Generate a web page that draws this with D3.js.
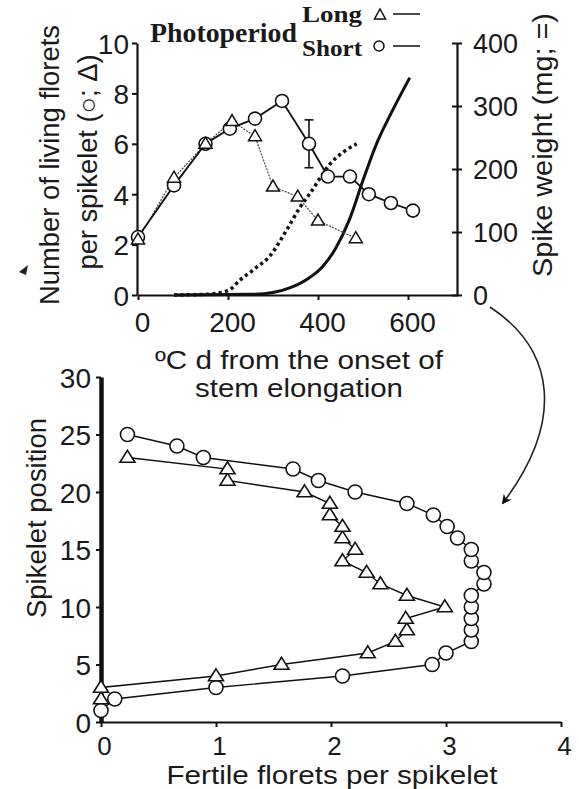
<!DOCTYPE html>
<html><head><meta charset="utf-8">
<script src="https://cdn.jsdelivr.net/npm/d3@7"></script>
<style>body{margin:0;background:#fff} svg{display:block}</style>
</head><body>
<svg id="c" width="579" height="789"></svg>
<script>
// ---------- DATA (top panel) ----------
const shortTT = [0, 80, 150, 204, 260, 320, 380, 422, 471, 513, 562, 611];
const shortFlorets = [2.3, 4.35, 6.0, 6.6, 7.0, 7.7, 6.0, 4.7, 4.7, 4.0, 3.65, 3.35];
const shortErr = [0, 0, 0, 0, 0, 0.2, 0.95, 0, 0.1, 0.15, 0.15, 0.15];
const longTT = [0, 80, 150, 209, 260, 300, 355, 400, 484];
const longFlorets = [2.2, 4.65, 6.0, 6.9, 6.3, 4.3, 3.9, 2.95, 2.25];
const longWeightTT = [80, 150, 200, 227, 260, 293, 331, 360, 382, 427, 486];
const longWeight = [0, 1, 7, 24, 42, 62, 104, 139, 161, 208, 240];
const shortWeightTT = [80, 250, 300, 340, 380, 410, 440, 470, 500, 530, 560, 604];
const shortWeight = [0, 1, 4, 12, 27, 45, 75, 120, 182, 240, 285, 345];
const topXTicks = [0, 200, 400, 600];
const topYTicks = [0, 2, 4, 6, 8, 10];
const topY2Ticks = [0, 100, 200, 300, 400];

// ---------- DATA (bottom panel) ----------
const shortPos = [1,2,3,4,5,6,7,8,9,10,11,12,13,14,15,16,17,18,19,20,21,22,23,24,25];
const shortFertile = [0.0, 0.12, 1.0, 2.1, 2.88, 3.0, 3.22, 3.22, 3.22, 3.22, 3.22, 3.33, 3.33, 3.22, 3.22, 3.1, 3.01, 2.89, 2.66, 2.21, 1.89, 1.67, 0.89, 0.66, 0.23];
const longPos = [2,3,4,5,6,7,8,9,10,11,12,13,14,15,16,17,18,19,20,21,22,23];
const longFertile = [0.0, 0.0, 1.0, 1.57, 2.32, 2.56, 2.66, 2.65, 2.99, 2.66, 2.43, 2.31, 2.10, 2.21, 2.10, 2.10, 1.99, 1.99, 1.77, 1.1, 1.1, 0.23];
const botXTicks = [0, 1, 2, 3, 4];
const botYTicks = [0, 5, 10, 15, 20, 25, 30];

const SANS = '"Liberation Sans", Arial, Helvetica, sans-serif';
const SERIF = '"Liberation Serif", "Times New Roman", serif';
const svg = d3.select('#c');

function fit(sel, len){ sel.attr('textLength', len).attr('lengthAdjust', 'spacingAndGlyphs'); return sel; }
const triType = (w, h) => ({ draw(ctx){ ctx.moveTo(0, -h*0.6); ctx.lineTo(w/2, h*0.4); ctx.lineTo(-w/2, h*0.4); ctx.closePath(); } });

// defs: arrow
svg.append('defs').append('marker').attr('id', 'ah').attr('viewBox', '0 0 10 10')
  .attr('refX', 8).attr('refY', 5).attr('markerWidth', 10).attr('markerHeight', 10)
  .attr('markerUnits', 'userSpaceOnUse').attr('orient', 'auto')
  .append('path').attr('d', 'M0,0 L10,5 L0,10 L3,5 Z').attr('fill', '#111');

// ================= TOP PANEL =================
const x1 = d3.scaleLinear().domain([0, 710]).range([138, 457.5]);
const yL = d3.scaleLinear().domain([0, 10]).range([295, 43]);
const yR = d3.scaleLinear().domain([0, 400]).range([295, 43]);

function styleAxis(g, w){
  g.attr('font-family', SANS).attr('font-size', 28).attr('fill', '#111');
  g.select('.domain').attr('stroke', '#111').attr('stroke-width', w);
  g.selectAll('.tick line').attr('stroke', '#111').attr('stroke-width', 2);
  g.selectAll('.tick text').attr('fill', '#1a1a1a');
}

const gx1 = svg.append('g').attr('transform', 'translate(0,295)')
  .call(d3.axisBottom(x1).tickValues(topXTicks).tickFormat(d3.format('d')).tickSize(5).tickSizeOuter(0));
styleAxis(gx1, 2.2);
gx1.selectAll('.tick text').attr('y', 37).attr('dy', 0).attr('dx', 4);

const gyL = svg.append('g').attr('transform', 'translate(137,0)')
  .call(d3.axisLeft(yL).tickValues(topYTicks).tickFormat(d3.format('d')).tickSize(5).tickSizeOuter(0));
styleAxis(gyL, 2.2);
gyL.selectAll('.tick text').attr('x', -8).attr('dy', '0.36em');

const gyR = svg.append('g').attr('transform', 'translate(457,0)')
  .call(d3.axisRight(yR).tickValues(topY2Ticks).tickFormat(d3.format('d')).tickSize(5).tickSizeOuter(0));
styleAxis(gyR, 2.2);
gyR.selectAll('.tick line').attr('x1', -5);
gyR.selectAll('.tick text').attr('x', 16).attr('dy', '0.36em').attr('font-size', 27);

// spike weight curves
const wLine = d3.line().x(d => x1(d[0])).y(d => yR(d[1])).curve(d3.curveMonotoneX);
svg.append('path').attr('d', wLine(d3.zip(longWeightTT, longWeight)))
  .attr('fill', 'none').attr('stroke', '#111').attr('stroke-width', 3.5)
  .attr('stroke-dasharray', '3.2,3.2');
svg.append('path').attr('d', wLine(d3.zip(shortWeightTT, shortWeight)))
  .attr('fill', 'none').attr('stroke', '#111').attr('stroke-width', 3);

// floret lines
const fLine = d3.line().x(d => x1(d[0])).y(d => yL(d[1]));
svg.append('path').attr('d', fLine(d3.zip(longTT, longFlorets)))
  .attr('fill', 'none').attr('stroke', '#444').attr('stroke-width', 1.2).attr('stroke-dasharray', '2,1.2');
svg.append('path').attr('d', fLine(d3.zip(shortTT, shortFlorets)))
  .attr('fill', 'none').attr('stroke', '#111').attr('stroke-width', 1.8);

// error bars
const eb = svg.append('g').attr('stroke', '#111').attr('stroke-width', 1.6);
shortTT.forEach((t, i) => {
  const e = shortErr[i]; if (!e) return;
  const cx = x1(t), y0 = yL(shortFlorets[i] - e), y1 = yL(shortFlorets[i] + e);
  eb.append('line').attr('x1', cx).attr('x2', cx).attr('y1', y0).attr('y2', y1);
  eb.append('line').attr('x1', cx - 4.5).attr('x2', cx + 4.5).attr('y1', y0).attr('y2', y0);
  eb.append('line').attr('x1', cx - 4.5).attr('x2', cx + 4.5).attr('y1', y1).attr('y2', y1);
});

// markers
svg.append('g').selectAll('circle').data(d3.zip(shortTT, shortFlorets)).join('circle')
  .attr('cx', d => x1(d[0])).attr('cy', d => yL(d[1])).attr('r', 6.5)
  .attr('fill', '#fff').attr('stroke', '#111').attr('stroke-width', 1.6);
const triSmall = d3.symbol().type(triType(13, 11))();
svg.append('g').selectAll('path').data(d3.zip(longTT, longFlorets)).join('path')
  .attr('d', triSmall).attr('transform', d => `translate(${x1(d[0])},${yL(d[1])})`)
  .attr('fill', '#fff').attr('stroke', '#111').attr('stroke-width', 1.5);

// legend
fit(svg.append('text').attr('x', 150).attr('y', 42).attr('font-family', SERIF).attr('font-weight', 'bold')
  .attr('font-size', 27).attr('fill', '#1a1a1a').text('Photoperiod'), 147);
fit(svg.append('text').attr('x', 302).attr('y', 22).attr('font-family', SERIF).attr('font-weight', 'bold')
  .attr('font-size', 24).attr('fill', '#1a1a1a').text('Long'), 60);
fit(svg.append('text').attr('x', 302).attr('y', 56).attr('font-family', SERIF).attr('font-weight', 'bold')
  .attr('font-size', 24).attr('fill', '#1a1a1a').text('Short'), 60);
svg.append('path').attr('d', d3.symbol().type(triType(11, 10))()).attr('transform', 'translate(380,15)')
  .attr('fill', '#fff').attr('stroke', '#111').attr('stroke-width', 1.5);
svg.append('circle').attr('cx', 379).attr('cy', 46).attr('r', 5)
  .attr('fill', '#fff').attr('stroke', '#111').attr('stroke-width', 1.5);
svg.append('line').attr('x1', 393).attr('x2', 420).attr('y1', 14).attr('y2', 14).attr('stroke', '#111').attr('stroke-width', 1.5);
svg.append('line').attr('x1', 393).attr('x2', 420).attr('y1', 46).attr('y2', 46).attr('stroke', '#111').attr('stroke-width', 1.5);

// axis titles top
fit(svg.append('text').attr('transform', 'translate(59,165) rotate(-90)').attr('text-anchor', 'middle')
  .attr('font-family', SANS).attr('font-size', 27).attr('fill', '#1a1a1a').text('Number of living florets'), 280);
fit(svg.append('text').attr('transform', 'translate(97,162) rotate(-90)').attr('text-anchor', 'middle')
  .attr('font-family', SANS).attr('font-size', 27).attr('fill', '#1a1a1a').text('per spikelet (○; Δ)'), 215);
fit(svg.append('text').attr('transform', 'translate(552,145) rotate(-90)').attr('text-anchor', 'middle')
  .attr('font-family', SANS).attr('font-size', 27).attr('fill', '#1a1a1a').text('Spike weight (mg; =)'), 264);
fit(svg.append('text').attr('x', 299).attr('y', 369).attr('text-anchor', 'middle')
  .attr('font-family', SANS).attr('font-size', 25).attr('fill', '#1a1a1a').text('ºC d from the onset of'), 288);
fit(svg.append('text').attr('x', 299).attr('y', 397).attr('text-anchor', 'middle')
  .attr('font-family', SANS).attr('font-size', 25).attr('fill', '#1a1a1a').text('stem elongation'), 208);
svg.append('path').attr('d', 'M19,272 L28,265 L26,275 Z').attr('fill', '#222');

// curved arrow
svg.append('path').attr('d', 'M490,307 C555,350 565,420 503,503')
  .attr('fill', 'none').attr('stroke', '#222').attr('stroke-width', 1.6).attr('marker-end', 'url(#ah)');

// ================= BOTTOM PANEL =================
const x2 = d3.scaleLinear().domain([0, 4]).range([101, 561]);
const y2 = d3.scaleLinear().domain([0, 30]).range([722, 377]);

const gx2 = svg.append('g').attr('transform', 'translate(0,722)')
  .call(d3.axisBottom(x2).tickValues(botXTicks).tickFormat(d3.format('d')).tickSize(5).tickSizeOuter(0));
styleAxis(gx2, 2.2);
gx2.selectAll('.tick text').attr('y', 33).attr('dy', 0).attr('dx', 3).attr('font-size', 26);

const gy2 = svg.append('g').attr('transform', 'translate(101,0)')
  .call(d3.axisLeft(y2).tickValues(botYTicks).tickFormat(d3.format('d')).tickSize(5).tickSizeOuter(0));
styleAxis(gy2, 4.5);
gy2.selectAll('.tick text').attr('x', -10).attr('dy', '0.36em');

const bLine = d3.line().x(d => x2(d[0])).y(d => y2(d[1]));
svg.append('path').attr('d', bLine(d3.zip(longFertile, longPos)))
  .attr('fill', 'none').attr('stroke', '#111').attr('stroke-width', 1.4);
svg.append('path').attr('d', bLine(d3.zip(shortFertile, shortPos)))
  .attr('fill', 'none').attr('stroke', '#111').attr('stroke-width', 1.4);

svg.append('g').selectAll('circle').data(d3.zip(shortFertile, shortPos)).join('circle')
  .attr('cx', d => x2(d[0])).attr('cy', d => y2(d[1])).attr('r', 7)
  .attr('fill', '#fff').attr('stroke', '#111').attr('stroke-width', 1.6);
const triBig = d3.symbol().type(triType(15, 12))();
svg.append('g').selectAll('path').data(d3.zip(longFertile, longPos)).join('path')
  .attr('d', triBig).attr('transform', d => `translate(${x2(d[0])},${y2(d[1])})`)
  .attr('fill', '#fff').attr('stroke', '#111').attr('stroke-width', 1.6);

fit(svg.append('text').attr('transform', 'translate(46,518) rotate(-90)').attr('text-anchor', 'middle')
  .attr('font-family', SANS).attr('font-size', 27).attr('fill', '#1a1a1a').text('Spikelet position'), 200);
fit(svg.append('text').attr('x', 332).attr('y', 784).attr('text-anchor', 'middle')
  .attr('font-family', SANS).attr('font-size', 26).attr('fill', '#1a1a1a').text('Fertile florets per spikelet'), 331);
</script>
</body></html>
